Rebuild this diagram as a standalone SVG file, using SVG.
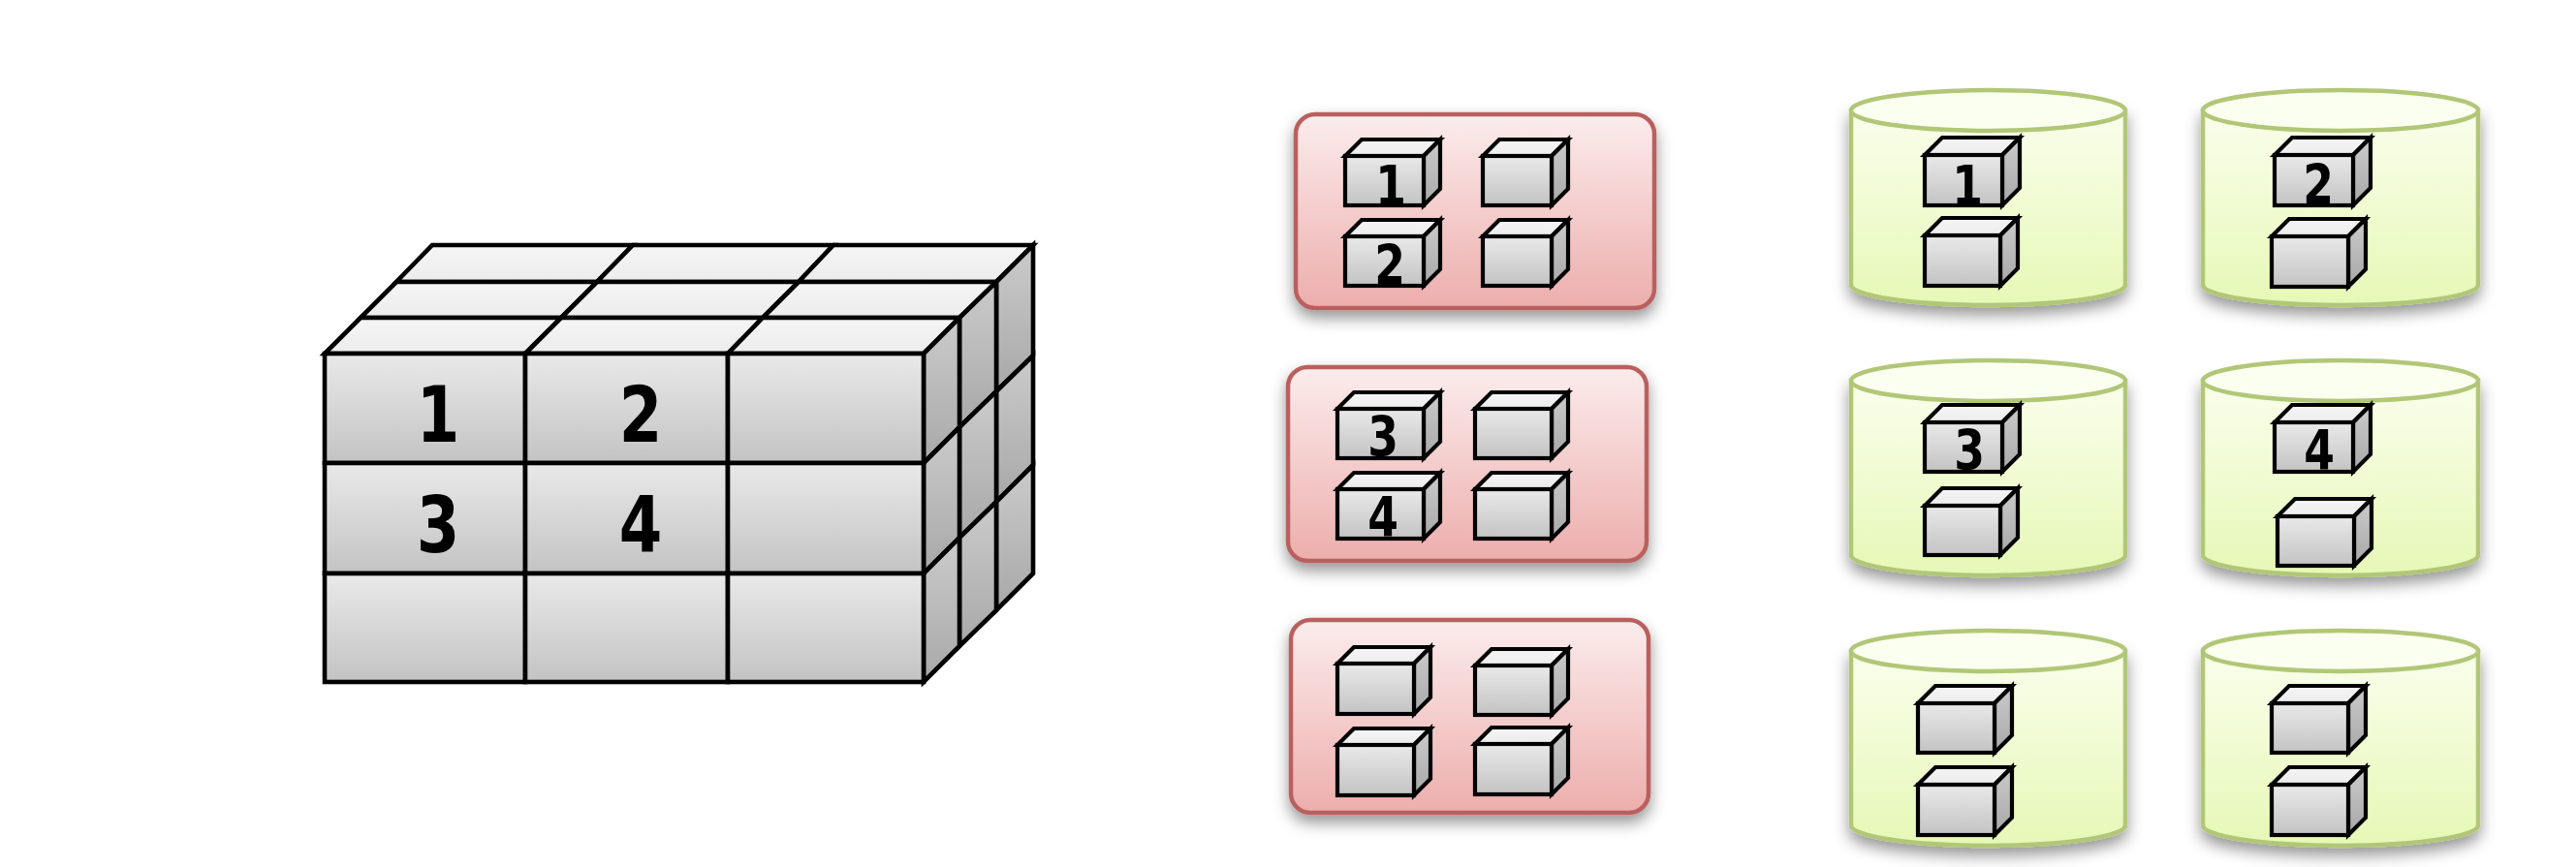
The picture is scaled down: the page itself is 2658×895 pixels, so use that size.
<svg xmlns="http://www.w3.org/2000/svg" width="2658" height="895" viewBox="0 0 2658 895">
<defs>
<linearGradient id="gf" x1="0" y1="0" x2="0" y2="1"><stop offset="0" stop-color="#e9e9e9"/><stop offset="1" stop-color="#c3c3c3"/></linearGradient>
<linearGradient id="gt" x1="0" y1="0" x2="0" y2="1"><stop offset="0" stop-color="#f5f5f5"/><stop offset="1" stop-color="#ececec"/></linearGradient>
<linearGradient id="gs" x1="0" y1="0" x2="0" y2="1"><stop offset="0" stop-color="#cbcbcb"/><stop offset="1" stop-color="#a8a8a8"/></linearGradient>
<linearGradient id="gr" x1="0" y1="0" x2="0" y2="1"><stop offset="0" stop-color="#fbecec"/><stop offset="1" stop-color="#ecaeac"/></linearGradient>
<linearGradient id="gc" x1="0" y1="0" x2="0" y2="1"><stop offset="0" stop-color="#fafeec"/><stop offset="1" stop-color="#e6f8b6"/></linearGradient>
<filter id="sh" x="-10%" y="-10%" width="120%" height="135%"><feDropShadow dx="0" dy="8" stdDeviation="8" flood-color="#000" flood-opacity="0.42"/></filter>
</defs>
<style>
.f,.t,.s{stroke:#000;stroke-linejoin:miter}
.f{fill:url(#gf)}.t{fill:url(#gt)}.s{fill:url(#gs)}
.big .f,.big .t,.big .s{stroke-width:4.6}
.box .f,.box .t,.box .s{stroke-width:4.2}
.panel{fill:url(#gr);stroke:#b9615e;stroke-width:4.5;filter:url(#sh)}
.cyl{fill:url(#gc);stroke:#b1c777;stroke-width:4.5;filter:url(#sh)}
.lid{fill:#fbfff0;stroke:#b1c777;stroke-width:4.5}
text{font-family:"DejaVu Sans","Liberation Sans",sans-serif;font-weight:700;fill:#000;text-anchor:middle}
.l{font-size:80px}.m{font-size:57px}
</style>
<rect width="2658" height="895" fill="#fff"/>
<g id="cube" class="big">
<polygon class="t" points="446,253 653,253 616,291 409,291"/><polygon class="t" points="653,253 860,253 824,291 616,291"/><polygon class="t" points="860,253 1066,253 1028,291 824,291"/>
<polygon class="t" points="409,291 616,291 579,328 372,328"/><polygon class="t" points="616,291 824,291 787,328 579,328"/><polygon class="t" points="824,291 1028,291 990,328 787,328"/>
<polygon class="t" points="372,328 579,328 542,365 335,365"/><polygon class="t" points="579,328 787,328 751,365 542,365"/><polygon class="t" points="787,328 990,328 953,365 751,365"/>
<polygon class="s" points="1028,291 1066,253 1066,367 1028,404"/><polygon class="s" points="1028,404 1066,367 1066,480 1028,518"/><polygon class="s" points="1028,518 1066,480 1066,592 1028,630"/>
<polygon class="s" points="990,328 1028,291 1028,404 990,441"/><polygon class="s" points="990,441 1028,404 1028,518 990,555"/><polygon class="s" points="990,555 1028,518 1028,630 990,667"/>
<polygon class="s" points="953,365 990,328 990,441 953,478"/><polygon class="s" points="953,478 990,441 990,555 953,592"/><polygon class="s" points="953,592 990,555 990,667 953,704"/>
<rect class="f" x="335" y="365" width="207" height="113"/><rect class="f" x="542" y="365" width="209" height="113"/><rect class="f" x="751" y="365" width="202" height="113"/>
<rect class="f" x="335" y="478" width="207" height="114"/><rect class="f" x="542" y="478" width="209" height="114"/><rect class="f" x="751" y="478" width="202" height="114"/>
<rect class="f" x="335" y="592" width="207" height="112"/><rect class="f" x="542" y="592" width="209" height="112"/><rect class="f" x="751" y="592" width="202" height="112"/>
<text class="l" transform="translate(452,456) scale(.8,1)">1</text>
<text class="l" transform="translate(661,456) scale(.8,1)">2</text>
<text class="l" transform="translate(452,570) scale(.8,1)">3</text>
<text class="l" transform="translate(661,570) scale(.8,1)">4</text>
</g>
<g id="panel-1" class="box">
<rect class="panel" x="1337" y="118" width="370" height="200" rx="20"/>
<polygon class="t" points="1388,161 1405,144 1486,144 1469,161"/><polygon class="s" points="1469,161 1486,144 1486,195 1469,212"/><rect class="f" x="1388" y="161" width="81" height="51"/>
<polygon class="t" points="1530,161 1547,144 1618,144 1601,161"/><polygon class="s" points="1601,161 1618,144 1618,195 1601,212"/><rect class="f" x="1530" y="161" width="71" height="51"/>
<polygon class="t" points="1388,244 1405,227 1486,227 1469,244"/><polygon class="s" points="1469,244 1486,227 1486,278 1469,295"/><rect class="f" x="1388" y="244" width="81" height="51"/>
<polygon class="t" points="1530,244 1547,227 1618,227 1601,244"/><polygon class="s" points="1601,244 1618,227 1618,278 1601,295"/><rect class="f" x="1530" y="244" width="71" height="51"/>
<text class="m" transform="translate(1435,212) scale(.8,1)">1</text>
<text class="m" transform="translate(1434,294) scale(.8,1)">2</text>
</g>
<g id="panel-2" class="box">
<rect class="panel" x="1329" y="379" width="370" height="200" rx="20"/>
<polygon class="t" points="1380,422 1397,405 1486,405 1469,422"/><polygon class="s" points="1469,422 1486,405 1486,456 1469,473"/><rect class="f" x="1380" y="422" width="89" height="51"/>
<polygon class="t" points="1522,422 1539,405 1618,405 1601,422"/><polygon class="s" points="1601,422 1618,405 1618,456 1601,473"/><rect class="f" x="1522" y="422" width="79" height="51"/>
<polygon class="t" points="1380,505 1397,488 1486,488 1469,505"/><polygon class="s" points="1469,505 1486,488 1486,539 1469,556"/><rect class="f" x="1380" y="505" width="89" height="51"/>
<polygon class="t" points="1522,505 1539,488 1618,488 1601,505"/><polygon class="s" points="1601,505 1618,488 1618,539 1601,556"/><rect class="f" x="1522" y="505" width="79" height="51"/>
<text class="m" transform="translate(1427,471) scale(.8,1)">3</text>
<text class="m" transform="translate(1427,554) scale(.8,1)">4</text>
</g>
<g id="panel-3" class="box">
<rect class="panel" x="1332" y="640" width="369" height="199" rx="20"/>
<polygon class="t" points="1380,685 1397,668 1476,668 1459,685"/><polygon class="s" points="1459,685 1476,668 1476,720 1459,737"/><rect class="f" x="1380" y="685" width="79" height="52"/>
<polygon class="t" points="1522,687 1539,670 1618,670 1601,687"/><polygon class="s" points="1601,687 1618,670 1618,721 1601,738"/><rect class="f" x="1522" y="687" width="79" height="51"/>
<polygon class="t" points="1380,769 1397,752 1476,752 1459,769"/><polygon class="s" points="1459,769 1476,752 1476,804 1459,821"/><rect class="f" x="1380" y="769" width="79" height="52"/>
<polygon class="t" points="1522,768 1539,751 1618,751 1601,768"/><polygon class="s" points="1601,768 1618,751 1618,803 1601,820"/><rect class="f" x="1522" y="768" width="79" height="52"/>
</g>
<g id="cylinder-1" class="box">
<path class="cyl" d="M1910,114V294A141.5,21 0 0 0 2193,294V114Z"/><ellipse class="lid" cx="2051.5" cy="114" rx="141.5" ry="21"/>
<polygon class="t" points="1986,160 2004,142 2084,142 2066,160"/><polygon class="s" points="2066,160 2084,142 2084,194 2066,212"/><rect class="f" x="1986" y="160" width="80" height="52"/>
<polygon class="t" points="1986,243 2004,225 2082,225 2064,243"/><polygon class="s" points="2064,243 2082,225 2082,277 2064,295"/><rect class="f" x="1986" y="243" width="78" height="52"/>
<text class="m" transform="translate(2030,212) scale(.8,1)">1</text>
</g>
<g id="cylinder-2" class="box">
<path class="cyl" d="M2273,114V294A142,21 0 0 0 2557,294V114Z"/><ellipse class="lid" cx="2415" cy="114" rx="142" ry="21"/>
<polygon class="t" points="2347,160 2365,142 2446,142 2428,160"/><polygon class="s" points="2428,160 2446,142 2446,194 2428,212"/><rect class="f" x="2347" y="160" width="81" height="52"/>
<polygon class="t" points="2344,244 2362,226 2441,226 2423,244"/><polygon class="s" points="2423,244 2441,226 2441,278 2423,296"/><rect class="f" x="2344" y="244" width="79" height="52"/>
<text class="m" transform="translate(2392,211) scale(.8,1)">2</text>
</g>
<g id="cylinder-3" class="box">
<path class="cyl" d="M1910,393V573A141.5,21 0 0 0 2193,573V393Z"/><ellipse class="lid" cx="2051.5" cy="393" rx="141.5" ry="21"/>
<polygon class="t" points="1986,436 2004,418 2084,418 2066,436"/><polygon class="s" points="2066,436 2084,418 2084,469 2066,487"/><rect class="f" x="1986" y="436" width="80" height="51"/>
<polygon class="t" points="1986,522 2004,504 2082,504 2064,522"/><polygon class="s" points="2064,522 2082,504 2082,555 2064,573"/><rect class="f" x="1986" y="522" width="78" height="51"/>
<text class="m" transform="translate(2032,485) scale(.8,1)">3</text>
</g>
<g id="cylinder-4" class="box">
<path class="cyl" d="M2273,393V573A142,21 0 0 0 2557,573V393Z"/><ellipse class="lid" cx="2415" cy="393" rx="142" ry="21"/>
<polygon class="t" points="2347,436 2365,418 2446,418 2428,436"/><polygon class="s" points="2428,436 2446,418 2446,469 2428,487"/><rect class="f" x="2347" y="436" width="81" height="51"/>
<polygon class="t" points="2350,533 2368,515 2447,515 2429,533"/><polygon class="s" points="2429,533 2447,515 2447,566 2429,584"/><rect class="f" x="2350" y="533" width="79" height="51"/>
<text class="m" transform="translate(2393,485) scale(.8,1)">4</text>
</g>
<g id="cylinder-5" class="box">
<path class="cyl" d="M1910,672V852A141.5,21 0 0 0 2193,852V672Z"/><ellipse class="lid" cx="2051.5" cy="672" rx="141.5" ry="21"/>
<polygon class="t" points="1979,726 1997,708 2076,708 2058,726"/><polygon class="s" points="2058,726 2076,708 2076,759 2058,777"/><rect class="f" x="1979" y="726" width="79" height="51"/>
<polygon class="t" points="1979,810 1997,792 2076,792 2058,810"/><polygon class="s" points="2058,810 2076,792 2076,844 2058,862"/><rect class="f" x="1979" y="810" width="79" height="52"/>
</g>
<g id="cylinder-6" class="box">
<path class="cyl" d="M2273,672V852A142,21 0 0 0 2557,852V672Z"/><ellipse class="lid" cx="2415" cy="672" rx="142" ry="21"/>
<polygon class="t" points="2344,726 2362,708 2441,708 2423,726"/><polygon class="s" points="2423,726 2441,708 2441,759 2423,777"/><rect class="f" x="2344" y="726" width="79" height="51"/>
<polygon class="t" points="2344,810 2362,792 2441,792 2423,810"/><polygon class="s" points="2423,810 2441,792 2441,844 2423,862"/><rect class="f" x="2344" y="810" width="79" height="52"/>
</g>
</svg>
